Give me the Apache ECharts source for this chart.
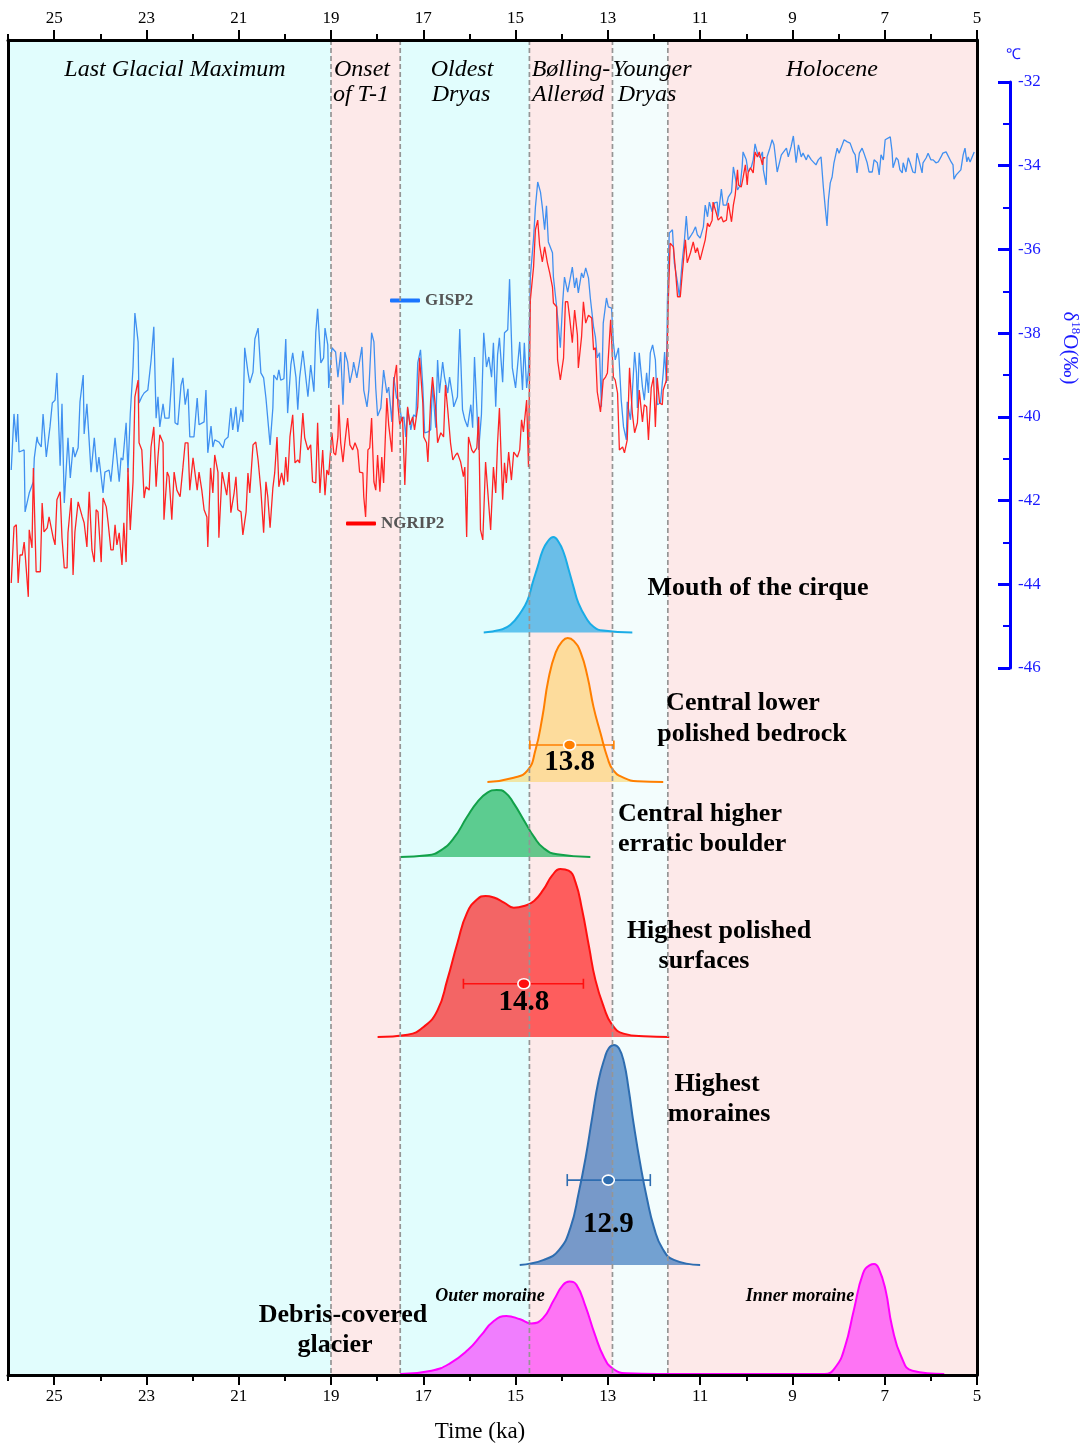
<!DOCTYPE html>
<html><head><meta charset="utf-8">
<script src="https://cdn.jsdelivr.net/npm/echarts@6/dist/echarts.min.js"></script>
<style>html,body{margin:0;padding:0;background:#fff}#c{width:1082px;height:1446px}</style>
</head><body><div id="c"></div>
<script>
// ---------------- DATA ----------------
const majorTicks = [25,23,21,19,17,15,13,11,9,7,5];
const minorTicks = [26,24,22,20,18,16,14,12,10,8,6];
const periods = [
  {name:'Last Glacial Maximum', from:26, to:19},
  {name:'Onset of T-1', from:19, to:17.5},
  {name:'Oldest Dryas', from:17.5, to:14.7},
  {name:'Bølling-Allerød', from:14.7, to:12.9},
  {name:'Younger Dryas', from:12.9, to:11.7},
  {name:'Holocene', from:11.7, to:5}
];
const boundaries = [19, 17.5, 14.7, 12.9, 11.7];

const gisp2 = [[25.93,-41.27],[25.87,-39.93],[25.82,-40.60],[25.79,-39.93],[25.76,-40.84],[25.65,-40.79],[25.63,-42.27],[25.54,-41.82],[25.45,-41.55],[25.43,-40.98],[25.37,-40.48],[25.35,-40.60],[25.28,-40.72],[25.24,-39.93],[25.17,-40.96],[25.09,-40.24],[25.04,-39.67],[24.98,-39.60],[24.94,-38.95],[24.91,-38.95],[24.87,-41.17],[24.83,-39.69],[24.78,-42.06],[24.70,-40.50],[24.65,-41.46],[24.59,-40.72],[24.55,-40.96],[24.48,-40.74],[24.44,-39.64],[24.37,-39.00],[24.35,-40.41],[24.29,-39.69],[24.20,-41.32],[24.13,-40.50],[24.07,-41.32],[24.03,-40.96],[23.94,-41.82],[23.90,-41.32],[23.81,-41.27],[23.77,-41.55],[23.68,-40.50],[23.59,-41.55],[23.55,-40.98],[23.51,-41.03],[23.44,-40.14],[23.40,-41.32],[23.35,-39.93],[23.29,-38.81],[23.25,-37.52],[23.18,-38.21],[23.16,-39.67],[23.10,-39.52],[23.05,-39.43],[22.97,-39.36],[22.90,-38.66],[22.84,-37.85],[22.79,-40.03],[22.75,-39.52],[22.71,-40.24],[22.64,-39.69],[22.60,-40.03],[22.51,-40.03],[22.42,-38.59],[22.38,-40.14],[22.32,-40.19],[22.25,-39.24],[22.21,-39.07],[22.16,-39.71],[22.10,-39.33],[22.06,-40.48],[21.97,-40.48],[21.90,-39.55],[21.86,-40.19],[21.75,-40.12],[21.71,-39.36],[21.67,-40.86],[21.60,-40.22],[21.56,-40.72],[21.52,-40.55],[21.43,-40.60],[21.34,-40.74],[21.30,-40.55],[21.23,-40.48],[21.17,-39.79],[21.13,-40.31],[21.06,-39.76],[21.02,-40.36],[20.95,-39.83],[20.91,-40.12],[20.87,-38.35],[20.80,-38.93],[20.76,-39.19],[20.69,-38.93],[20.65,-38.14],[20.58,-37.88],[20.52,-38.95],[20.46,-39.07],[20.41,-39.55],[20.37,-39.52],[20.32,-40.67],[20.26,-39.79],[20.24,-39.00],[20.17,-39.12],[20.13,-38.88],[20.09,-39.12],[20.02,-39.09],[19.98,-38.14],[19.94,-39.91],[19.87,-38.76],[19.83,-38.47],[19.76,-39.05],[19.72,-39.83],[19.68,-39.07],[19.61,-38.42],[19.57,-38.42],[19.50,-39.52],[19.44,-38.76],[19.37,-39.40],[19.33,-37.99],[19.29,-37.42],[19.22,-38.71],[19.16,-38.59],[19.13,-37.88],[19.07,-38.28],[19.05,-39.31],[18.98,-38.35],[18.90,-38.45],[18.85,-39.05],[18.79,-38.45],[18.74,-39.71],[18.70,-38.45],[18.64,-38.69],[18.59,-39.19],[18.53,-38.88],[18.51,-38.69],[18.44,-39.07],[18.40,-39.07],[18.33,-38.33],[18.29,-39.36],[18.22,-39.76],[18.18,-39.36],[18.12,-37.99],[18.07,-38.21],[18.03,-39.31],[17.99,-39.98],[17.92,-39.79],[17.86,-38.88],[17.79,-39.43],[17.75,-39.29],[17.68,-40.12],[17.64,-39.05],[17.58,-39.55],[17.53,-39.60],[17.47,-40.07],[17.42,-40.00],[17.38,-40.48],[17.34,-39.79],[17.27,-40.31],[17.21,-39.95],[17.16,-40.00],[17.12,-38.71],[17.06,-38.40],[17.01,-39.29],[16.97,-40.38],[16.90,-40.36],[16.84,-40.31],[16.80,-39.24],[16.73,-40.26],[16.69,-38.64],[16.65,-39.43],[16.58,-38.69],[16.54,-39.05],[16.47,-39.43],[16.43,-39.05],[16.36,-39.55],[16.34,-39.76],[16.26,-39.52],[16.21,-37.90],[16.15,-39.83],[16.10,-40.07],[16.04,-40.24],[15.97,-39.71],[15.93,-40.26],[15.89,-38.57],[15.84,-39.79],[15.80,-40.79],[15.74,-39.95],[15.69,-37.99],[15.63,-38.81],[15.58,-38.57],[15.52,-39.05],[15.48,-38.23],[15.43,-39.76],[15.39,-38.52],[15.35,-38.11],[15.28,-39.17],[15.24,-37.99],[15.17,-37.92],[15.13,-36.71],[15.07,-38.83],[15.00,-39.31],[14.91,-38.21],[14.85,-39.36],[14.81,-38.23],[14.76,-39.31],[14.72,-38.88],[14.68,-36.66],[14.61,-35.73],[14.57,-34.99],[14.52,-34.39],[14.46,-34.63],[14.42,-34.99],[14.37,-35.53],[14.33,-34.96],[14.29,-35.82],[14.20,-36.08],[14.18,-36.66],[14.11,-37.37],[14.07,-37.85],[14.03,-38.35],[13.98,-37.28],[13.94,-36.66],[13.87,-37.02],[13.83,-37.02],[13.77,-36.42],[13.72,-36.92],[13.68,-36.68],[13.64,-37.04],[13.57,-36.56],[13.53,-36.68],[13.48,-36.44],[13.42,-36.68],[13.38,-37.16],[13.31,-37.85],[13.27,-38.09],[13.23,-38.59],[13.18,-38.47],[13.14,-39.76],[13.10,-37.76],[13.03,-37.16],[12.99,-37.37],[12.92,-37.40],[12.88,-38.23],[12.84,-38.64],[12.77,-38.35],[12.71,-39.60],[12.66,-40.24],[12.60,-40.55],[12.58,-39.64],[12.51,-40.07],[12.47,-39.43],[12.42,-38.45],[12.38,-38.95],[12.36,-39.79],[12.32,-38.47],[12.25,-39.29],[12.21,-39.60],[12.16,-38.95],[12.12,-39.43],[12.08,-38.47],[12.03,-38.28],[11.97,-38.64],[11.93,-39.71],[11.86,-39.67],[11.80,-38.95],[11.77,-38.45],[11.73,-39.19],[11.71,-37.25],[11.67,-35.61],[11.60,-35.53],[11.56,-36.32],[11.49,-36.80],[11.45,-37.13],[11.39,-36.30],[11.34,-35.77],[11.30,-35.20],[11.26,-35.77],[11.19,-35.65],[11.15,-35.58],[11.10,-35.46],[11.06,-35.65],[11.00,-35.73],[10.93,-35.46],[10.89,-34.94],[10.84,-35.22],[10.80,-34.87],[10.74,-35.10],[10.69,-34.89],[10.63,-34.87],[10.61,-35.22],[10.54,-34.56],[10.50,-34.94],[10.43,-34.94],[10.39,-34.75],[10.32,-34.63],[10.28,-34.03],[10.24,-34.27],[10.19,-34.58],[10.13,-34.46],[10.09,-34.03],[10.07,-33.67],[10.00,-33.86],[9.96,-34.15],[9.89,-34.03],[9.85,-33.86],[9.81,-33.48],[9.76,-33.70],[9.70,-33.81],[9.65,-33.67],[9.63,-34.10],[9.57,-34.46],[9.55,-33.79],[9.50,-33.62],[9.44,-33.38],[9.40,-33.50],[9.33,-34.15],[9.31,-34.15],[9.24,-33.74],[9.20,-33.70],[9.13,-33.58],[9.09,-33.79],[9.03,-33.55],[8.98,-33.29],[8.96,-33.29],[8.92,-33.93],[8.87,-33.50],[8.81,-33.79],[8.77,-33.70],[8.70,-33.86],[8.66,-33.74],[8.59,-33.86],[8.55,-33.86],[8.49,-33.98],[8.44,-33.86],[8.38,-33.79],[8.33,-34.51],[8.29,-34.99],[8.25,-35.44],[8.22,-34.82],[8.18,-34.41],[8.14,-34.27],[8.10,-33.93],[8.03,-33.58],[7.99,-33.70],[7.92,-33.50],[7.88,-33.38],[7.81,-33.43],[7.75,-33.46],[7.68,-33.67],[7.64,-33.74],[7.60,-34.17],[7.55,-33.70],[7.49,-33.58],[7.45,-33.70],[7.38,-33.93],[7.34,-34.15],[7.27,-34.15],[7.23,-33.86],[7.16,-33.93],[7.12,-34.22],[7.08,-33.74],[7.03,-33.86],[6.99,-33.38],[6.95,-33.38],[6.88,-33.31],[6.84,-33.67],[6.82,-34.05],[6.75,-33.81],[6.71,-33.86],[6.67,-34.10],[6.62,-34.17],[6.60,-33.93],[6.54,-34.15],[6.49,-33.81],[6.45,-33.93],[6.39,-34.15],[6.34,-34.17],[6.30,-33.70],[6.26,-33.86],[6.19,-34.17],[6.17,-33.93],[6.10,-33.81],[6.06,-33.70],[6.00,-33.86],[5.95,-33.86],[5.89,-33.93],[5.84,-33.91],[5.78,-33.79],[5.74,-33.70],[5.67,-33.67],[5.63,-33.67],[5.56,-33.91],[5.52,-33.98],[5.50,-34.32],[5.45,-34.22],[5.41,-34.17],[5.35,-34.10],[5.30,-33.74],[5.26,-33.58],[5.22,-33.91],[5.19,-33.79],[5.15,-33.91],[5.11,-33.93],[5.06,-33.67]];

const ngrip2 = [[25.93,-43.97],[25.87,-42.63],[25.82,-42.58],[25.78,-43.97],[25.74,-43.30],[25.69,-43.30],[25.65,-42.99],[25.63,-43.25],[25.56,-44.30],[25.54,-42.70],[25.48,-43.13],[25.45,-41.22],[25.39,-43.70],[25.30,-43.70],[25.26,-42.06],[25.22,-42.75],[25.15,-42.65],[25.11,-42.39],[25.07,-42.37],[25.02,-42.89],[24.98,-43.06],[24.94,-41.98],[24.87,-41.79],[24.83,-42.89],[24.78,-43.61],[24.72,-43.61],[24.70,-42.77],[24.63,-41.94],[24.59,-43.78],[24.55,-42.75],[24.48,-42.03],[24.39,-42.39],[24.35,-42.53],[24.29,-43.11],[24.24,-41.79],[24.18,-43.18],[24.13,-43.47],[24.09,-42.22],[24.05,-42.27],[23.98,-43.47],[23.94,-41.94],[23.87,-42.15],[23.83,-42.53],[23.77,-43.18],[23.72,-43.18],[23.68,-42.58],[23.64,-43.06],[23.59,-42.77],[23.53,-43.54],[23.49,-42.53],[23.44,-43.47],[23.40,-41.22],[23.35,-42.70],[23.29,-41.55],[23.25,-39.52],[23.18,-39.12],[23.16,-40.62],[23.10,-40.79],[23.05,-41.94],[23.01,-41.67],[22.94,-41.75],[22.90,-40.72],[22.84,-40.24],[22.79,-41.67],[22.75,-40.96],[22.71,-40.43],[22.64,-40.62],[22.62,-42.46],[22.55,-41.32],[22.51,-41.43],[22.45,-42.46],[22.40,-41.32],[22.34,-41.75],[22.27,-41.91],[22.21,-41.22],[22.16,-40.62],[22.10,-40.62],[22.06,-41.75],[21.99,-40.98],[21.95,-40.98],[21.90,-41.75],[21.86,-41.32],[21.80,-41.75],[21.75,-42.22],[21.69,-42.39],[21.67,-43.11],[21.61,-41.22],[21.56,-41.82],[21.52,-40.91],[21.45,-41.32],[21.43,-42.89],[21.36,-41.32],[21.32,-41.32],[21.26,-41.87],[21.21,-41.32],[21.17,-42.29],[21.10,-41.82],[21.06,-41.43],[21.02,-42.22],[20.95,-42.27],[20.91,-42.82],[20.84,-42.27],[20.80,-41.34],[20.76,-41.82],[20.69,-40.67],[20.63,-40.60],[20.58,-41.03],[20.52,-41.75],[20.46,-42.77],[20.41,-41.55],[20.37,-41.91],[20.32,-42.65],[20.26,-41.70],[20.22,-41.34],[20.17,-40.48],[20.13,-41.67],[20.07,-41.34],[20.02,-41.63],[19.98,-40.96],[19.94,-41.55],[19.89,-40.48],[19.83,-39.95],[19.78,-41.10],[19.72,-41.03],[19.68,-41.10],[19.61,-39.91],[19.57,-40.50],[19.50,-40.79],[19.44,-40.67],[19.40,-41.55],[19.33,-41.58],[19.29,-40.14],[19.24,-41.82],[19.18,-40.79],[19.13,-41.87],[19.09,-41.27],[19.05,-41.39],[18.98,-40.38],[18.94,-40.86],[18.90,-40.91],[18.85,-40.48],[18.83,-39.71],[18.79,-40.62],[18.74,-41.08],[18.70,-40.62],[18.64,-40.03],[18.59,-40.67],[18.53,-40.79],[18.48,-40.62],[18.42,-40.79],[18.38,-41.32],[18.31,-41.34],[18.29,-41.91],[18.25,-42.39],[18.20,-40.79],[18.16,-40.74],[18.12,-40.03],[18.07,-41.55],[18.03,-41.75],[17.99,-40.91],[17.94,-41.79],[17.90,-40.96],[17.86,-41.58],[17.79,-39.55],[17.75,-40.19],[17.68,-40.84],[17.64,-39.17],[17.58,-38.76],[17.55,-39.71],[17.51,-40.19],[17.45,-40.00],[17.40,-41.63],[17.34,-39.76],[17.29,-40.19],[17.23,-40.00],[17.19,-40.31],[17.12,-39.76],[17.08,-38.59],[17.01,-39.67],[16.99,-40.48],[16.93,-40.62],[16.90,-41.08],[16.84,-39.60],[16.80,-39.05],[16.73,-39.83],[16.69,-40.62],[16.62,-40.38],[16.56,-40.48],[16.52,-39.24],[16.47,-39.83],[16.41,-40.62],[16.36,-41.03],[16.30,-40.91],[16.26,-40.86],[16.19,-41.08],[16.13,-41.43],[16.10,-41.20],[16.06,-42.87],[16.02,-40.48],[15.95,-40.79],[15.91,-40.86],[15.84,-40.74],[15.80,-40.00],[15.76,-42.70],[15.71,-42.94],[15.65,-41.08],[15.61,-41.10],[15.54,-42.70],[15.48,-41.20],[15.43,-41.82],[15.39,-40.62],[15.35,-39.79],[15.28,-41.98],[15.24,-41.10],[15.20,-41.58],[15.15,-40.84],[15.09,-41.51],[15.04,-40.84],[14.96,-40.96],[14.91,-40.79],[14.87,-40.07],[14.83,-40.36],[14.76,-39.60],[14.72,-41.20],[14.68,-37.21],[14.61,-36.42],[14.57,-35.53],[14.52,-35.30],[14.48,-35.89],[14.42,-36.30],[14.37,-35.94],[14.31,-36.32],[14.26,-36.56],[14.20,-36.90],[14.18,-37.28],[14.11,-37.37],[14.09,-38.64],[14.03,-39.12],[13.96,-38.59],[13.92,-37.25],[13.87,-37.25],[13.83,-37.61],[13.77,-38.23],[13.72,-37.45],[13.66,-38.04],[13.64,-38.83],[13.57,-38.09],[13.53,-37.25],[13.48,-37.76],[13.42,-37.57],[13.35,-37.64],[13.31,-38.40],[13.27,-38.35],[13.23,-39.40],[13.16,-39.88],[13.10,-39.12],[13.05,-39.05],[13.01,-38.95],[12.94,-37.68],[12.88,-39.05],[12.84,-39.12],[12.79,-39.43],[12.75,-40.79],[12.68,-40.72],[12.64,-40.86],[12.58,-40.55],[12.53,-38.83],[12.47,-39.91],[12.42,-40.38],[12.36,-40.14],[12.32,-39.36],[12.25,-40.12],[12.21,-39.71],[12.16,-39.76],[12.12,-40.55],[12.06,-39.31],[12.01,-39.05],[11.97,-40.24],[11.93,-39.07],[11.88,-39.67],[11.82,-39.71],[11.80,-39.36],[11.73,-39.12],[11.69,-37.21],[11.65,-35.85],[11.58,-35.94],[11.54,-36.42],[11.49,-37.13],[11.43,-37.13],[11.39,-36.61],[11.32,-35.77],[11.28,-36.32],[11.21,-36.08],[11.15,-35.82],[11.10,-36.08],[11.06,-35.96],[11.00,-36.25],[10.89,-35.77],[10.84,-35.37],[10.80,-35.46],[10.74,-35.30],[10.72,-34.87],[10.65,-35.13],[10.61,-35.30],[10.54,-35.22],[10.50,-35.34],[10.43,-35.30],[10.39,-34.89],[10.32,-35.34],[10.28,-34.94],[10.24,-34.70],[10.19,-34.10],[10.17,-34.46],[10.11,-34.51],[10.07,-34.29],[10.02,-33.98],[9.98,-34.46],[9.96,-34.17],[9.91,-34.05],[9.85,-34.17],[9.81,-33.67],[9.76,-33.79],[9.72,-33.67],[9.65,-33.98],[9.63,-33.81],[9.59,-33.81]];

// relative probability density (peak = 1) vs age (ka)
const kdeCirque = [[15.69,0],[15.32,0.03],[15.11,0.08],[14.89,0.21],[14.74,0.34],[14.63,0.52],[14.52,0.69],[14.42,0.85],[14.31,0.95],[14.18,1],[14.07,0.95],[13.96,0.84],[13.85,0.66],[13.74,0.47],[13.64,0.31],[13.48,0.16],[13.31,0.06],[13.10,0.02],[12.47,0]];
const kdeLowerBedrock = [[15.61,0],[15.04,0.03],[14.74,0.08],[14.57,0.22],[14.42,0.45],[14.29,0.71],[14.13,0.90],[13.98,0.98],[13.87,1],[13.74,0.98],[13.59,0.90],[13.44,0.73],[13.31,0.52],[13.16,0.34],[13.01,0.17],[12.88,0.08],[12.66,0.03],[12.36,0.005],[11.80,0]];
const kdeErratic = [[17.50,0],[16.91,0.025],[16.62,0.10],[16.34,0.28],[16.05,0.60],[15.83,0.82],[15.61,0.96],[15.41,1],[15.22,0.96],[15.04,0.80],[14.82,0.55],[14.60,0.30],[14.39,0.13],[14.10,0.04],[13.38,0]];
const kdePolished = [[17.99,0],[17.34,0.014],[16.98,0.063],[16.69,0.16],[16.48,0.34],[16.26,0.56],[16.05,0.74],[15.83,0.82],[15.65,0.84],[15.47,0.83],[15.25,0.80],[15.04,0.77],[14.82,0.78],[14.60,0.81],[14.39,0.88],[14.21,0.96],[14.03,1],[13.85,0.99],[13.70,0.92],[13.56,0.76],[13.41,0.54],[13.27,0.34],[13.09,0.18],[12.91,0.073],[12.66,0.02],[12.22,0.004],[11.67,0]];
const kdeMoraines = [[14.91,0],[14.39,0.023],[14.06,0.068],[13.81,0.17],[13.63,0.33],[13.48,0.49],[13.34,0.67],[13.20,0.84],[13.07,0.94],[12.98,0.985],[12.87,1],[12.76,0.985],[12.65,0.92],[12.55,0.80],[12.44,0.64],[12.29,0.45],[12.15,0.30],[12.00,0.17],[11.82,0.076],[11.57,0.023],[11.00,0]];
const kdeDebris = [[17.50,0],[16.82,0.03],[16.42,0.097],[16.03,0.22],[15.74,0.355],[15.49,0.475],[15.20,0.527],[14.90,0.497],[14.66,0.46],[14.41,0.506],[14.17,0.673],[13.97,0.81],[13.83,0.84],[13.68,0.81],[13.48,0.61],[13.29,0.37],[13.09,0.157],[12.90,0.052],[12.60,0.006],[11.92,0],[8.31,0],[8.06,0.066],[7.86,0.25],[7.67,0.58],[7.47,0.915],[7.32,0.99],[7.23,1],[7.13,0.96],[6.98,0.76],[6.84,0.43],[6.64,0.157],[6.40,0.03],[5.71,0]];

// weighted mean ages with uncertainty range (ka)
const ageCenter = [13.83, 14.82, 12.99];
const ageLow = [12.87, 13.53, 12.08];
const ageHigh = [14.69, 16.13, 13.88];
const ageLabel = ['13.8', '14.8', '12.9'];

// ---------------- STYLE / LAYOUT ----------------
const SERIF = '"Liberation Serif","Times New Roman",serif';
const L = 8, R = 105;
const bandFill = ['#e1fdfd','#fde9e9','#e1fdfd','#fde9e9','#f3fdfd','#fde9e9'];
const kdeList = [
  {data:kdeCirque, top:537, h:95.5, line:'#1aace6', fill:'rgba(35,170,232,0.68)'},
  {data:kdeLowerBedrock, top:638, h:144, line:'#ff7f00', fill:'rgba(253,207,79,0.5)'},
  {data:kdeErratic, top:790, h:67, line:'#12a14a', fill:'rgba(35,182,97,0.7)'},
  {data:kdePolished, top:869, h:168, line:'#ff1010', fill:'rgba(255,0,0,0.6)'},
  {data:kdeMoraines, top:1045, h:220, line:'#2e6db0', fill:'rgba(30,100,180,0.6)'},
  {data:kdeDebris, top:1264, h:110, line:'#ff00ff', fill:'rgba(255,0,255,0.5)'}
];
const barCurve = [1, 3, 4];
const barLevel = [0.257, 0.317, 0.386];
const barCap = [4.5, 5, 6];
const labelDy = [18, 19, 44];

const xRange = {type:'value', min:5, max:26, inverse:true};
const grids = [
  {left:L, right:R, top:40, bottom:71, outerBoundsMode:'none'},
  {left:L, right:R, top:82, height:586, outerBoundsMode:'none'}
];
kdeList.forEach(k => grids.push({left:L, right:R, top:k.top, height:k.h, outerBoundsMode:'none'}));

function mainAxis(pos, major){
  return Object.assign({}, xRange, {
    gridIndex:0, position:pos, z:10,
    axisLine:{show:major, onZero:false, lineStyle:{color:'#000', width:3}},
    axisTick:{show:true, customValues: major ? majorTicks : minorTicks, length: major ? 10 : 6, lineStyle:{color:'#000', width:2}},
    axisLabel:{show:major, customValues: majorTicks, margin:13, fontSize:17, fontFamily:SERIF, color:'#000'},
    splitLine:{show:false}
  });
}
const xAxes = [mainAxis('bottom', true), mainAxis('bottom', false), mainAxis('top', true), mainAxis('top', false)];
for (let g = 1; g < grids.length; g++) xAxes.push(Object.assign({}, xRange, {gridIndex:g, show:false, axisLine:{onZero:false}, splitLine:{show:false}}));

const frameY = pos => ({gridIndex:0, type:'value', min:0, max:1, position:pos, z:10,
  axisLine:{show:true, onZero:false, lineStyle:{color:'#000', width:3}}, axisTick:{show:false}, axisLabel:{show:false}, splitLine:{show:false}});
const yAxes = [frameY('left'), frameY('right'), {
  gridIndex:1, type:'value', position:'right', offset:33, min:-46, max:-32, interval:2, z:10,
  axisLine:{show:true, onZero:false, lineStyle:{color:'#0000ff', width:3}},
  axisTick:{show:true, inside:true, length:12, lineStyle:{color:'#0000ff', width:3}},
  minorTick:{show:true, splitNumber:2, length:7, lineStyle:{color:'#0000ff', width:2}},
  axisLabel:{margin:8, color:'#1a1aff', fontSize:17, fontFamily:SERIF},
  splitLine:{show:false}, minorSplitLine:{show:false}
}];
kdeList.forEach((k,i) => yAxes.push({gridIndex:2+i, type:'value', min:0, max:1, show:false, splitLine:{show:false}}));

const series = [];
series.push({
  type:'custom', name:'periods', xAxisIndex:0, yAxisIndex:0, z:1, silent:true,
  data: periods.map(p => [p.from, p.to]), encode:{x:[0,1]},
  renderItem(params, api){
    const cs = params.coordSys;
    const a = api.coord([api.value(0), 0])[0], b = api.coord([api.value(1), 0])[0];
    return {type:'rect', shape:{x:Math.min(a,b), y:cs.y, width:Math.abs(b-a), height:cs.height}, style:{fill:bandFill[params.dataIndex]}};
  }
});
series.push({type:'line', name:'GISP2', xAxisIndex:4, yAxisIndex:2, data:gisp2, showSymbol:false, symbol:'none', z:4, silent:true,
  lineStyle:{color:'#4090f0', width:1.3}, itemStyle:{color:'#1a75ff'}});
series.push({type:'line', name:'NGRIP2', xAxisIndex:4, yAxisIndex:2, data:ngrip2, showSymbol:false, symbol:'none', z:4, silent:true,
  lineStyle:{color:'#ff2424', width:1.3}, itemStyle:{color:'#ff0000'}});
kdeList.forEach((k,i) => series.push({
  type:'line', xAxisIndex:5+i, yAxisIndex:3+i, data:k.data, smooth:0.5,
  showSymbol:false, symbol:'none', clip:false, z:3, silent:true,
  lineStyle:{color:k.line, width:2}, areaStyle:{color:k.fill, opacity:1, origin:'start'}
}));
series.push({
  type:'custom', name:'boundaries', xAxisIndex:0, yAxisIndex:0, z:5, silent:true,
  data: boundaries.map(b => [b]), encode:{x:0},
  renderItem(params, api){
    const cs = params.coordSys; const x = api.coord([api.value(0), 0])[0];
    return {type:'line', shape:{x1:x, y1:cs.y, x2:x, y2:cs.y+cs.height}, style:{stroke:'#959595', lineWidth:1.7, lineDash:[5,3]}};
  }
});
barCurve.forEach((ci, k) => series.push({
  type:'custom', xAxisIndex:5+ci, yAxisIndex:3+ci, z:6, silent:true, clip:false,
  data:[[ageCenter[k], ageLow[k], ageHigh[k]]], encode:{x:[0,1,2]},
  renderItem(params, api){
    const lv = barLevel[k], col = kdeList[ci].line, cap = barCap[k];
    const c = api.coord([api.value(0), lv]), lo = api.coord([api.value(1), lv]), hi = api.coord([api.value(2), lv]);
    return {type:'group', children:[
      {type:'line', shape:{x1:lo[0], y1:lo[1], x2:hi[0], y2:hi[1]}, style:{stroke:col, lineWidth:1.6}},
      {type:'line', shape:{x1:lo[0], y1:lo[1]-cap, x2:lo[0], y2:lo[1]+cap}, style:{stroke:col, lineWidth:1.6}},
      {type:'line', shape:{x1:hi[0], y1:hi[1]-cap, x2:hi[0], y2:hi[1]+cap}, style:{stroke:col, lineWidth:1.6}},
      {type:'ellipse', shape:{cx:c[0], cy:c[1], rx:6, ry:5}, style:{fill:col, stroke:'#fff', lineWidth:1.6}},
      {type:'text', x:c[0], y:c[1]+labelDy[k], style:{text:ageLabel[k], font:'bold 29px '+SERIF, fill:'#000', align:'center', verticalAlign:'middle'}}
    ]};
  }
}));

const T = (text, x, y, font, align) => ({type:'text', x:x, y:y, z:30, silent:true,
  style:{text:text, font:font, fill:'#000', align:align||'center', verticalAlign:'middle'}});
const IT = 'italic 24px ' + SERIF, BD = 'bold 26px ' + SERIF, BI = 'italic bold 18px ' + SERIF;
const graphics = [
  T('Last Glacial Maximum',175,70,IT), T('Onset',362,70,IT), T('of T-1',361,95,IT),
  T('Oldest',462,70,IT), T('Dryas',461,95,IT), T('Bølling-',571,70,IT), T('Allerød',568,95,IT),
  T('Younger',652,70,IT), T('Dryas',647,95,IT), T('Holocene',832,70,IT),
  T('Mouth of the cirque',758,588,BD), T('Central lower',743,703,BD), T('polished bedrock',752,734,BD),
  T('Central higher',618,814,BD,'left'), T('erratic boulder',618,844,BD,'left'),
  T('Highest polished',719,931,BD), T('surfaces',704,961,BD),
  T('Highest',717,1084,BD), T('moraines',719,1114,BD),
  T('Debris-covered',343,1315,BD), T('glacier',335,1345,BD),
  T('Outer moraine',490,1296,BI), T('Inner moraine',800,1296,BI),
  T('Time (ka)',480,1432,'23px '+SERIF),
  {type:'text', x:1013, y:55, z:30, style:{text:'℃', font:'15px '+SERIF, fill:'#1a1aff', align:'center', verticalAlign:'middle'}},
  {type:'text', x:1070, y:348, z:30, rotation:-Math.PI/2, style:{
    text:'{n|δ}{s|18}{n|O(‰)}', fill:'#1a1aff', align:'center', verticalAlign:'middle',
    rich:{n:{fontSize:21, fontFamily:SERIF, lineHeight:23, fill:'#1a1aff'}, s:{fontSize:13, fontFamily:SERIF, lineHeight:13, verticalAlign:'top', fill:'#1a1aff'}}
  }}
];

const legendBase = {orient:'horizontal', padding:0, itemWidth:30, itemHeight:4, icon:'roundRect', selectedMode:false,
  textStyle:{fontFamily:SERIF, fontWeight:'bold', fontSize:17, color:'#555'}};

const chart = echarts.init(document.getElementById('c'), null, {renderer:'canvas', width:1082, height:1446});
chart.setOption({
  animation:false,
  backgroundColor:'#ffffff',
  grid:grids, xAxis:xAxes, yAxis:yAxes, series:series,
  legend:[Object.assign({}, legendBase, {data:['GISP2'], left:390, top:292}),
          Object.assign({}, legendBase, {data:['NGRIP2'], left:346, top:515})],
  graphic:graphics
});
</script></body></html>
